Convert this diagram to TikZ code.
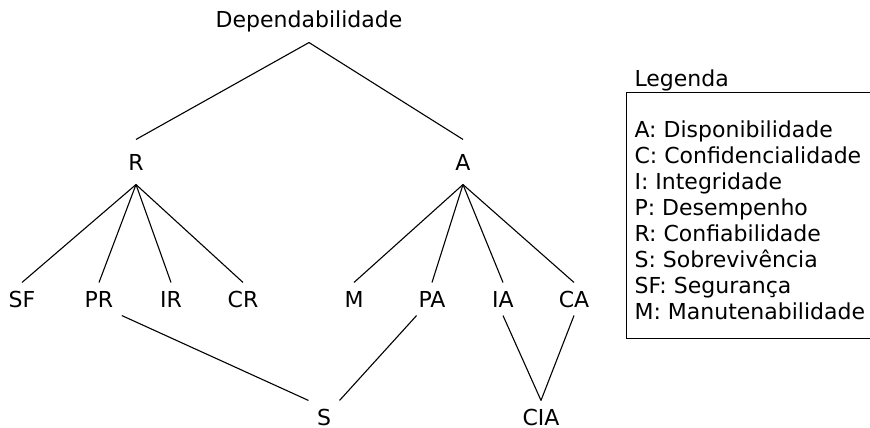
\documentclass[tikz,border=0pt]{standalone}
\usepackage{fontspec}
\setmainfont{DejaVu Sans}
\usetikzlibrary{positioning}
\tikzset{
	every node/.style={font=\fontsize{22}{26}\selectfont},
	upper/.style={text height=16pt,text depth=0pt,inner sep=14pt},
	lower/.style={text height=16pt,text depth=0pt,inner sep=8pt},
	legbox/.style={draw,align=left,inner xsep=8pt,inner ysep=19pt,anchor=north west}
}

\begin{document}
\begin{tikzpicture}[x=1pt,y=-1pt,line width=1.1pt]
	\useasboundingbox (0,0) rectangle (870,428);
	% tree
	\node[upper] (dep) at (309,20) {Dependabilidade};
	\node[upper] (r) at (136,162) {R};
	\node[upper] (a) at (463,162) {A};
	\node[lower] (sf) at (22,299) {SF};
	\node[lower] (pr) at (99,299) {PR};
	\node[lower] (ir) at (171,299) {IR};
	\node[lower] (cr) at (243,299) {CR};
	\node[lower] (m) at (354,299) {M};
	\node[lower] (pa) at (432,299) {PA};
	\node[lower] (ia) at (503,299) {IA};
	\node[lower] (ca) at (574,299) {CA};
	\node[lower] (s) at (324,417) {S};
	\node[lower] (cia) at (541,417) {CIA};
	\draw (dep.south) -- (r.north);
	\draw (dep.south) -- (a.north);
	\draw (r.south) -- (sf.north);
	\draw (r.south) -- (pr.north);
	\draw (r.south) -- (ir.north);
	\draw (r.south) -- (cr.north);
	\draw (a.south) -- (m.north);
	\draw (a.south) -- (pa.north);
	\draw (a.south) -- (ia.north);
	\draw (a.south) -- (ca.north);
	\draw (pr.south east) -- (s.north west);
	\draw (pa.-133) -- (s.north east);
	\draw (ia.south) -- (cia.north);
	\draw (ca.south) -- (cia.north);
	% legenda
	\node[anchor=base west,inner sep=0pt] (leg) at (634,86) {Legenda};
	\node[legbox] (legenda) at (626,92) {\mbox{}\\
		A: Disponibilidade\\
		C: Confidencialidade\\
		I: Integridade\\
		P: Desempenho\\
		R: Confiabilidade\\
		S: Sobrevivência\\
		SF: Segurança\\
		M: Manutenabilidade};
\end{tikzpicture}
\end{document}
